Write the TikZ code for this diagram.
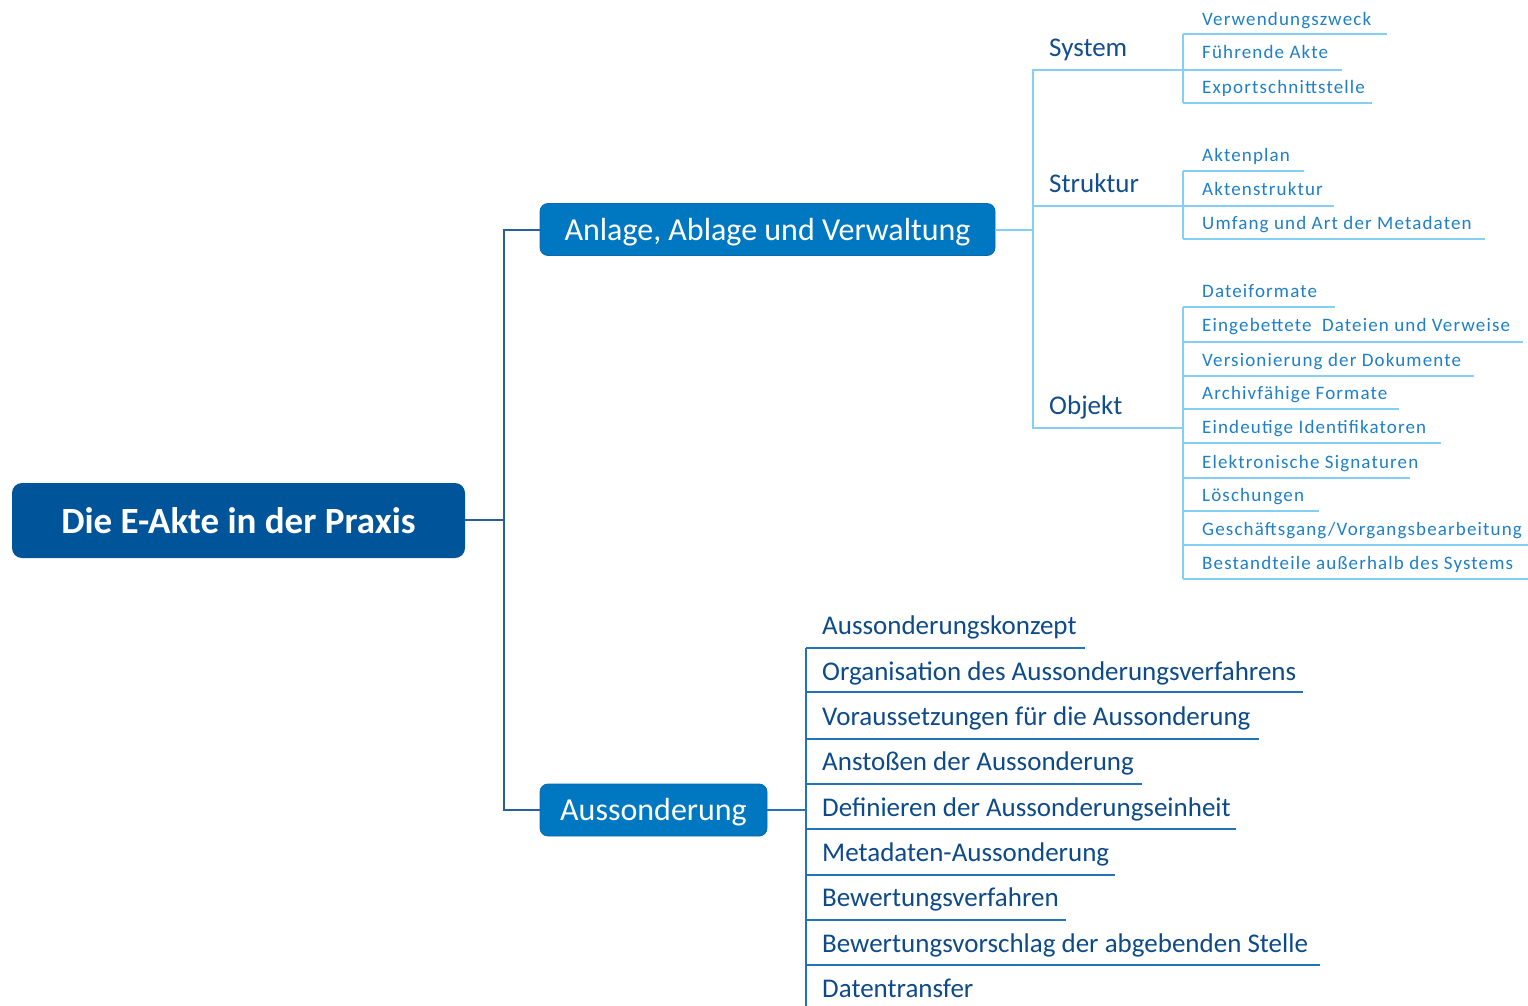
\documentclass[tikz,border=0pt]{standalone}
\usepackage{fontspec}
\setmainfont{Carlito}
\definecolor{cRoot}{HTML}{00549A}
\definecolor{cLvl}{HTML}{0078C1}
\definecolor{cLvlBorder}{HTML}{0A68AE}
\definecolor{cDark}{HTML}{2A5E9C}
\definecolor{cLight}{HTML}{84CFF3}
\definecolor{cMid}{HTML}{124D8C}
\definecolor{cLeaf}{HTML}{1E7FC8}
\definecolor{cAusText}{HTML}{0D4A89}
\definecolor{cAusLine}{HTML}{2472B9}
\begin{document}
\begin{tikzpicture}[x=1pt,y=-1pt,
  rootbox/.style={fill=cRoot, rounded corners=10pt, text=white, font=\fontsize{37}{40}\selectfont\bfseries, minimum width=453pt, minimum height=75pt, inner sep=0pt},
  lvlbox/.style={fill=cLvl, draw=cLvlBorder, line width=0.8pt, rounded corners=8pt, text=white, font=\fontsize{32}{36}\selectfont, minimum height=52pt, inner sep=0pt},
  rootline/.style={draw=cDark, line width=2pt},
  lightline/.style={draw=cLight, line width=2pt},
  ausline/.style={draw=cAusLine, line width=2.2pt},
  midlabel/.style={anchor=base west, inner sep=0pt, text=cMid, font=\fontsize{27}{30}\selectfont},
  leaflabel/.style={anchor=base west, inner sep=0pt, text=cLeaf, font=\fontsize{19}{22}\selectfont\addfontfeature{LetterSpace=6}},
  ausleaf/.style={anchor=base west, inner sep=0pt, text=cAusText, font=\fontsize{27}{30}\selectfont}]
\useasboundingbox (0,0) rectangle (1528,1006);

% main nodes
\node[rootbox] (root) at (238.5,520.5) {Die E-Akte in der Praxis};
\node[lvlbox, minimum width=455pt, text height=24pt, text depth=3pt] (anl) at (767.5,229.5) {Anlage, Ablage und Verwaltung};
\node[lvlbox, minimum width=227pt, text height=24pt, text depth=4pt] (aus) at (653.5,810) {Aussonderung};

% root connectors
\coordinate (j1) at (504,519.5);
\draw[rootline] (root.east |- j1) -- (j1);
\draw[rootline] (j1) |- (anl.west);
\draw[rootline] (j1) |- (aus.west);

% level 2 labels
\node[midlabel] (sys) at (1049,57) {System};
\node[midlabel] (str) at (1049,192) {Struktur};
\node[midlabel] (obj) at (1049,414) {Objekt};

\coordinate (j2) at (1033,229.5);
\coordinate (sysE) at (1183,70);
\coordinate (strE) at (1183,206);
\coordinate (objE) at (1183,428);
\draw[lightline] (anl.east) -- (j2);
\draw[lightline] (j2) |- (sysE);
\draw[lightline] (j2) |- (strE);
\draw[lightline] (j2) |- (objE);

% System leaves
\node[leaflabel] (s1) at (1202,25.5) {Verwendungszweck};
\node[leaflabel] (s2) at (1202,59) {Führende Akte};
\node[leaflabel] (s3) at (1202,93.5) {Exportschnittstelle};
\draw[lightline] (1183,34) -- (1183,103);
\foreach \y/\e in {34/1387, 70/1342, 103/1372}
  \draw[lightline] (1183,\y) -- (\e,\y);

% Struktur leaves
\node[leaflabel] (t1) at (1202,161.5) {Aktenplan};
\node[leaflabel] (t2) at (1202,195) {Aktenstruktur};
\node[leaflabel] (t3) at (1202,229.5) {Umfang und Art der Metadaten};
\draw[lightline] (1183,171) -- (1183,239);
\foreach \y/\e in {171/1304, 206/1334, 239/1485}
  \draw[lightline] (1183,\y) -- (\e,\y);

% Objekt leaves
\node[leaflabel] (o1) at (1202,297.5) {Dateiformate};
\node[leaflabel] (o2) at (1202,331.5) {Eingebettete\hspace{5pt} Dateien und Verweise};
\node[leaflabel] (o3) at (1202,366) {Versionierung der Dokumente};
\node[leaflabel] (o4) at (1202,399.5) {Archivfähige Formate};
\node[leaflabel] (o5) at (1202,433) {Eindeutige Identifikatoren};
\node[leaflabel] (o6) at (1202,468) {Elektronische Signaturen};
\node[leaflabel] (o7) at (1202,501.5) {Löschungen};
\node[leaflabel] (o8) at (1202,535.5) {Geschäftsgang/Vorgangsbearbeitung};
\node[leaflabel] (o9) at (1202,569) {Bestandteile außerhalb des Systems};
\draw[lightline] (1183,307) -- (1183,579);
\foreach \y/\e in {307/1335, 342/1523, 376/1474, 409/1399, 443/1441, 478/1410, 511/1319, 545/1528, 579/1528}
  \draw[lightline] (1183,\y) -- (\e,\y);

% Aussonderung leaves
\coordinate (j3) at (806,810);
\draw[ausline] (aus.east) -- (j3);
\node[ausleaf] (a1) at (822,634) {Aussonderungskonzept};
\node[ausleaf] (a2) at (822,680) {Organisation des Aussonderungsverfahrens};
\node[ausleaf] (a3) at (822,725) {Voraussetzungen für die Aussonderung};
\node[ausleaf] (a4) at (822,770) {Anstoßen der Aussonderung};
\node[ausleaf] (a5) at (822,816) {Definieren der Aussonderungseinheit};
\node[ausleaf] (a6) at (822,861) {Metadaten-Aussonderung};
\node[ausleaf] (a7) at (822,906) {Bewertungsverfahren};
\node[ausleaf] (a8) at (822,952) {Bewertungsvorschlag der abgebenden Stelle};
\node[ausleaf] (a9) at (822,997) {Datentransfer};
\draw[ausline] (806,648) -- (806,1006);
\foreach \y/\e in {648/1085, 692/1303, 739/1259, 784/1142, 829/1236, 875/1115, 920/1066, 965/1320}
  \draw[ausline] (806,\y) -- (\e,\y);
\end{tikzpicture}
\end{document}
